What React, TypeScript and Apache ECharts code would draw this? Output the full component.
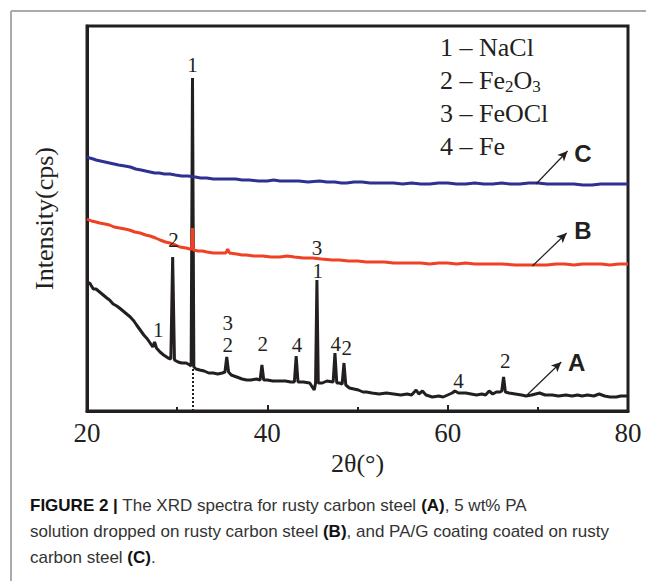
import React, { useEffect, useRef } from 'react';
import * as echarts from 'echarts';

// ---------- data ----------
// x: 2θ (degrees), y: intensity (arbitrary units)
const xTicks = [20, 40, 60, 80];

const seriesA: [number, number][] = [
  [20.0, 128], [20.3, 128], [20.7, 122], [21.0, 122], [21.4, 119], [21.8, 116], [22.2, 113], [22.5, 111],
  [22.9, 107], [23.3, 105], [23.6, 103], [24.0, 100], [24.4, 97], [24.8, 94], [25.2, 90], [25.5, 86],
  [25.9, 81], [26.3, 76], [26.7, 72], [27.0, 68], [27.3, 64], [27.5, 69], [27.7, 63], [28.1, 59],
  [28.5, 56], [29.0, 53], [29.3, 52], [29.5, 154], [29.7, 51], [30.1, 49], [30.5, 48], [31.0, 48],
  [31.4, 46], [31.55, 45], [31.7, 333], [31.85, 44], [32.1, 42], [32.5, 41], [33.0, 40], [33.5, 38],
  [34.0, 38], [34.5, 37], [35.0, 38], [35.3, 39], [35.5, 54], [35.7, 39], [36.0, 36], [36.6, 34],
  [37.2, 32], [37.7, 31], [38.2, 31], [38.8, 32], [39.2, 31], [39.4, 46], [39.6, 31], [40.0, 31],
  [40.6, 30], [41.4, 30], [42.0, 30], [42.6, 29], [43.0, 29], [43.2, 55], [43.4, 29], [44.0, 29],
  [44.7, 28], [45.2, 21], [45.35, 28], [45.5, 131], [45.65, 28], [46.1, 28], [46.6, 30], [47.3, 29],
  [47.5, 58], [47.7, 28], [48.0, 28], [48.3, 27], [48.5, 48], [48.7, 26], [49.1, 23], [49.6, 22],
  [50.1, 21], [50.6, 19], [51.0, 19], [51.6, 18], [52.4, 17], [53.2, 18], [54.0, 17], [54.8, 16],
  [55.5, 17], [56.0, 16], [56.5, 21], [56.8, 17], [57.2, 20], [57.6, 16], [58.3, 14], [59.0, 15],
  [59.5, 14], [60.0, 16], [60.5, 18], [60.8, 20], [61.2, 18], [62.0, 18], [62.6, 17], [63.2, 16],
  [63.8, 17], [64.2, 16], [64.6, 20], [65.0, 17], [65.4, 19], [65.8, 19], [66.0, 20], [66.2, 34],
  [66.4, 19], [66.8, 18], [67.5, 17], [68.2, 16], [68.7, 15], [69.3, 16], [70.2, 18], [70.8, 16],
  [71.6, 16], [72.3, 15], [73.1, 16], [73.8, 15], [74.4, 16], [74.9, 15], [75.5, 16], [76.2, 15],
  [76.8, 17], [77.4, 15], [78.0, 14], [78.7, 14], [79.2, 15], [79.6, 15], [80.0, 15],
];

const seriesB: [number, number][] = [
  [20.0, 192], [20.5, 190], [21.0, 189], [21.4, 188], [22.0, 187], [22.5, 186], [23.0, 184], [23.6, 183],
  [24.2, 182], [24.7, 181], [25.3, 179], [25.9, 178], [26.5, 176], [27.0, 175], [27.6, 173], [28.1, 171],
  [28.7, 169], [29.2, 168], [29.8, 166], [30.3, 164], [31.0, 163], [31.4, 162], [31.6, 162], [31.7, 183],
  [31.8, 161], [32.3, 160], [32.8, 160], [33.3, 159], [34.0, 158], [34.5, 158], [35.4, 158], [35.6, 162],
  [35.8, 158], [36.6, 157], [37.2, 156], [37.7, 156], [38.5, 155], [39.5, 155], [40.4, 154], [41.4, 154],
  [42.2, 155], [43.0, 154], [44.0, 153], [45.0, 153], [46.0, 152], [47.2, 151], [48.0, 151], [49.0, 150],
  [50.0, 150], [51.0, 149], [52.0, 149], [53.0, 149], [54.0, 148], [54.7, 148], [56.0, 148], [57.0, 148],
  [58.0, 147], [59.0, 148], [60.0, 148], [61.0, 147], [62.0, 148], [63.0, 147], [64.0, 147], [65.0, 147],
  [66.0, 147], [67.5, 146], [68.5, 146], [69.4, 146], [70.2, 146], [71.0, 146], [72.0, 147], [73.0, 147],
  [74.0, 146], [75.0, 147], [76.0, 147], [77.0, 147], [78.0, 146], [79.0, 147], [80.0, 147],
];

const seriesC: [number, number][] = [
  [20.0, 254], [20.3, 253], [20.7, 252], [21.0, 251], [21.5, 250], [22.0, 249], [22.5, 248], [23.0, 247],
  [23.5, 246], [24.2, 245], [24.8, 244], [25.4, 242], [26.0, 241], [26.5, 240], [27.0, 239], [27.5, 238],
  [28.0, 238], [28.6, 237], [29.2, 237], [29.8, 236], [30.5, 235], [31.2, 235], [32.0, 234], [32.6, 233],
  [33.3, 233], [34.0, 232], [34.7, 232], [35.5, 232], [36.5, 232], [37.2, 231], [38.0, 231], [39.0, 230],
  [40.0, 230], [40.7, 231], [41.4, 230], [42.5, 230], [43.5, 230], [44.5, 229], [45.8, 230], [46.6, 229],
  [47.5, 229], [48.2, 228], [48.8, 228], [49.6, 229], [50.5, 229], [51.4, 228], [52.4, 228], [53.2, 228],
  [54.0, 228], [55.0, 227], [56.0, 228], [57.0, 227], [58.0, 227], [59.0, 228], [60.0, 228], [61.0, 227],
  [62.0, 227], [63.0, 228], [64.0, 227], [65.0, 227], [66.0, 228], [67.0, 227], [68.0, 227], [69.0, 228],
  [70.0, 228], [71.0, 227], [72.0, 227], [73.0, 227], [74.0, 227], [75.0, 226], [76.0, 226], [77.0, 227],
  [78.0, 227], [79.0, 227], [80.0, 227],
];

// peak assignment labels: [text, x, y]
const peakLabels: [string, number, number][] = [
  ['1', 31.7, 346],
  ['2', 29.6, 171],
  ['3', 45.5, 163],
  ['1', 27.9, 81],
  ['3', 35.6, 88],
  ['2', 35.6, 66],
  ['2', 39.5, 67],
  ['4', 43.3, 66],
  ['1', 45.6, 140],
  ['4', 47.6, 67],
  ['2', 48.8, 63],
  ['4', 61.2, 30],
  ['2', 66.4, 50],
];

// curve letter annotations: [letter, arrowStartX, arrowStartY, arrowEndX, arrowEndY, labelX, labelY]
const curveTags: [string, number, number, number, number, number, number][] = [
  ['A', 68.8, 16, 72.6, 49, 74.3, 49],
  ['B', 69.4, 145, 73.2, 178, 75.0, 181],
  ['C', 69.8, 227, 73.3, 260, 75.0, 258],
];

const dottedMarker: [number, number, number] = [31.7, 0, 44];

const legendItems: string[] = [
  '{t|1 – NaCl}',
  '{t|2 – Fe}{s|2}{t|O}{s|3}',
  '{t|3 – FeOCl}',
  '{t|4 – Fe}',
];

const captionLines: string[] = [
  '{b|FIGURE 2 |}{r| The XRD spectra for rusty carbon steel }{b|(A)}{r|, 5 wt% PA}',
  '{r|solution dropped on rusty carbon steel }{b|(B)}{r|, and PA/G coating coated on rusty}',
  '{r|carbon steel }{b|(C)}{r|.}',
];

const xName = '2θ(°)';
const yName = 'Intensity(cps)';

// ---------- styles ----------
const SERIF = '"Liberation Serif", "Times New Roman", serif';
const SANS = '"Liberation Sans", Arial, sans-serif';
const INK = '#231f20';
const COLOR_A = '#231f20';
const COLOR_B = '#ef4123';
const COLOR_C = '#2e3192';

export default function App() {
  const ref = useRef<HTMLDivElement>(null);

  useEffect(() => {
    if (!ref.current) return;
    const chart = echarts.init(ref.current, undefined, { renderer: 'svg' });

    const option: any = {
      animation: false,
      backgroundColor: '#ffffff',
      grid: {
        left: 87,
        right: 18,
        top: 26,
        bottom: 170,
        show: true,
        borderColor: INK,
        borderWidth: 3,
      },
      xAxis: {
        type: 'value',
        min: xTicks[0],
        max: xTicks[xTicks.length - 1],
        interval: xTicks[1] - xTicks[0],
        name: xName,
        nameLocation: 'middle',
        nameGap: 36,
        nameTextStyle: { fontFamily: SERIF, fontSize: 26, color: INK },
        axisLine: { show: true, lineStyle: { color: INK, width: 3 } },
        axisTick: { show: true, inside: true, length: 6, lineStyle: { color: INK, width: 2 } },
        minorTick: { show: true, splitNumber: 2, length: 4, lineStyle: { color: INK, width: 2 } },
        axisLabel: { fontFamily: SERIF, fontSize: 27, color: INK, margin: 8 },
        splitLine: { show: false },
      },
      yAxis: {
        type: 'value',
        min: 0,
        max: 385,
        name: yName,
        nameLocation: 'middle',
        nameGap: 30,
        nameRotate: 90,
        nameTextStyle: { fontFamily: SERIF, fontSize: 26, color: INK },
        axisLine: { show: true, lineStyle: { color: INK, width: 3 } },
        axisTick: { show: false },
        axisLabel: { show: false },
        splitLine: { show: false },
      },
      series: [
        {
          name: 'A',
          type: 'line',
          data: seriesA,
          showSymbol: false,
          lineStyle: { color: COLOR_A, width: 3 },
          z: 2,
          markLine: {
            silent: true,
            symbol: ['none', 'none'],
            label: { show: false },
            lineStyle: { color: INK, width: 2, type: 'dotted' },
            data: [[
              { coord: [dottedMarker[0], dottedMarker[1]] },
              { coord: [dottedMarker[0], dottedMarker[2]] },
            ]],
          },
          markPoint: {
            silent: true,
            symbol: 'rect',
            symbolSize: 1,
            itemStyle: { color: 'rgba(0,0,0,0)' },
            label: {
              show: true,
              position: 'inside',
              fontFamily: SERIF,
              fontSize: 21,
              lineHeight: 20,
              color: INK,
              formatter: (p: any) => p.name,
            },
            data: peakLabels.map(([t, x, y]) => ({ name: t, coord: [x, y] })),
          },
        },
        {
          name: 'B',
          type: 'line',
          data: seriesB,
          showSymbol: false,
          lineStyle: { color: COLOR_B, width: 3 },
          z: 3,
        },
        {
          name: 'C',
          type: 'line',
          data: seriesC,
          showSymbol: false,
          lineStyle: { color: COLOR_C, width: 3 },
          z: 4,
        },
        {
          name: 'tags',
          type: 'line',
          data: [],
          z: 5,
          markLine: {
            silent: true,
            symbol: ['none', 'arrow'],
            symbolSize: [7, 10],
            label: { show: false },
            lineStyle: { color: INK, width: 1.2, type: 'solid' },
            data: curveTags.map(([, x1, y1, x2, y2]) => [
              { coord: [x1, y1] },
              { coord: [x2, y2] },
            ]),
          },
          markPoint: {
            silent: true,
            symbol: 'rect',
            symbolSize: 1,
            itemStyle: { color: 'rgba(0,0,0,0)' },
            label: {
              show: true,
              position: 'inside',
              fontFamily: SANS,
              fontWeight: 'bold',
              fontSize: 24,
              color: INK,
              formatter: (p: any) => p.name,
            },
            data: curveTags.map(([t, , , , , lx, ly]) => ({ name: t, coord: [lx, ly] })),
          },
        },
      ],
      graphic: [
        { type: 'line', shape: { x1: 11, y1: 11, x2: 646, y2: 11 }, style: { stroke: '#aaaaaa', lineWidth: 2 } },
        { type: 'line', shape: { x1: 11, y1: 11, x2: 11, y2: 581 }, style: { stroke: '#aaaaaa', lineWidth: 2 } },
        ...legendItems.map((txt, i) => ({
          type: 'text',
          left: 440,
          top: 34 + i * 33,
          style: {
            text: txt,
            rich: {
              t: { fontFamily: SERIF, fontSize: 26, fill: INK, lineHeight: 30 },
              s: { fontFamily: SERIF, fontSize: 17, fill: INK, lineHeight: 18, verticalAlign: 'bottom' },
            },
          },
        })),
        ...captionLines.map((txt, i) => ({
          type: 'text',
          left: 30,
          top: 497 + i * 26,
          style: {
            text: txt,
            rich: {
              b: { fontFamily: SANS, fontSize: 17, fontWeight: 'bold', fill: '#111111', lineHeight: 22 },
              r: { fontFamily: SANS, fontSize: 17, fill: '#333333', lineHeight: 22 },
            },
          },
        })),
      ],
    };

    chart.setOption(option);
    return () => chart.dispose();
  }, []);

  return (
    <div
      ref={ref}
      style={{ position: 'absolute', left: 0, top: 0, width: 646, height: 581 }}
    />
  );
}
